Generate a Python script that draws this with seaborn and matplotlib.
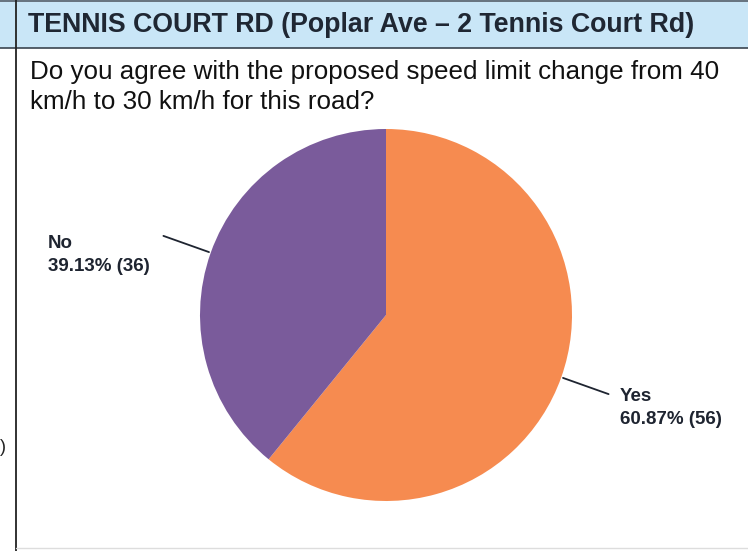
import numpy as np
import matplotlib.pyplot as plt
import seaborn as sns

# Survey result
answers = ['Yes', 'No']
counts = [56, 36]
colours = ['#F68B50', '#7A5B9B']

title = 'TENNIS COURT RD (Poplar Ave \u2013 2 Tennis Court Rd)'
question = ['Do you agree with the proposed speed limit change from 40',
            'km/h to 30 km/h for this road?']

sns.set_theme(style='white')
plt.rcParams['font.family'] = ['Liberation Sans', 'DejaVu Sans']

W, H = 748, 551
fig = plt.figure(figsize=(W / 100, H / 100), dpi=100)
fig.patch.set_facecolor('white')

def px(x, y):
    return x / W, 1 - y / H

# table frame: header band and cell borders
bg = fig.add_axes([0, 0, 1, 1])
bg.set_xlim(0, W)
bg.set_ylim(H, 0)
bg.axis('off')
bg.fill_between([0, W], 0, 48, color='#C9E6F7', lw=0)
bg.plot([0, W], [1, 1], color='#555f6a', lw=1.2)
bg.plot([0, W], [48, 48], color='#3a4450', lw=1.2)
bg.plot([16, 16], [0, H], color='#222', lw=1.3)
bg.plot([16, W], [548, 548], color='#dddddd', lw=1)
bg.text(0, 447, ')', fontsize=13, color='#222', va='center', ha='left')

fig.text(*px(28, 32), title, fontsize=19.3, fontweight='bold', color='#1f2733',
         va='baseline', ha='left')
for i, line in enumerate(question):
    fig.text(*px(30, 79 + 30 * i), line, fontsize=18.7, color='#111111',
             va='baseline', ha='left')

# pie chart
cx, cy, r = 386, 315, 186
ax = fig.add_axes([(cx - r) / W, (H - cy - r) / H, 2 * r / W, 2 * r / H])
wedges, _ = ax.pie(counts, colors=colours, startangle=90, counterclock=False,
                   radius=1.0, wedgeprops=dict(linewidth=0))
ax.set_xlim(-1, 1)
ax.set_ylim(-1, 1)
ax.axis('off')

total = sum(counts)
label_pos = {'Yes': (620, 408), 'No': (48, 255)}
for w, name, n in zip(wedges, answers, counts):
    mid = np.deg2rad((w.theta1 + w.theta2) / 2)
    x0, y0 = 1.01 * np.cos(mid), 1.01 * np.sin(mid)
    x1, y1 = 1.27 * np.cos(mid), 1.27 * np.sin(mid)
    ax.plot([x0, x1], [y0, y1], color='#1e2430', lw=1.3, clip_on=False)
    lx, ly = label_pos[name]
    fig.text(*px(lx, ly), f'{name}\n{n / total * 100:.2f}% ({n})', fontsize=13.5,
             fontweight='bold', color='#1e2430', va='center', ha='left',
             linespacing=1.45)

fig.savefig('out.png', dpi=100)
